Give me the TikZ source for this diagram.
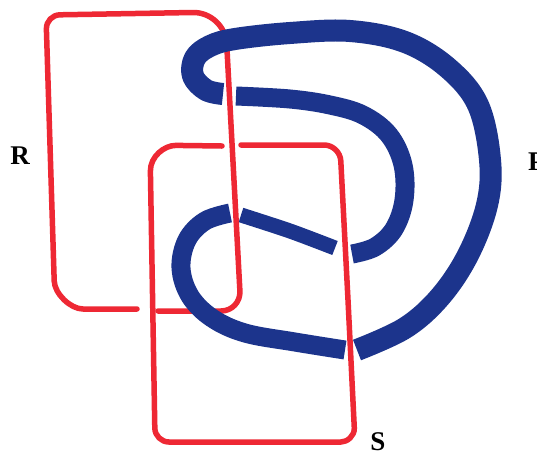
\documentclass[tikz,border=0pt]{standalone}
\usepackage{fontspec}
\setmainfont{Liberation Serif}
\definecolor{penred}{RGB}{238,40,52}
\definecolor{penblue}{RGB}{28,52,140}
\begin{document}
\begin{tikzpicture}[x=1pt,y=-1pt,
  rl/.style={draw=penred,line width=5.5pt,line cap=round,line join=round},
  bl/.style={draw=penblue,line cap=butt,line join=round},
  lab/.style={font=\fontsize{27}{30}\selectfont\bfseries,inner sep=0pt}]
\useasboundingbox (0,0) rectangle (537,456);
\clip (0,0) rectangle (537,456);
\fill[white] (0,0) rectangle (537,456);
% ring R
\draw[rl] (158,311) -- (221,311) .. controls (232,311) and (240.5,302) .. (239.9,291) -- (226.7,44) .. controls (225.8,26.4) and (210.6,12.2) .. (193,12.5) -- (60,14.8) .. controls (52.3,14.9) and (46.2,21.3) .. (46.4,29) -- (54.2,281) .. controls (54.6,293.6) and (70.4,309) .. (83,309) -- (137,309);
% blue band P
\draw[bl,line width=22pt] plot[smooth,tension=0.6] coordinates {(223,94) (206,90) (193,76) (195,58) (210,46) (235,39) (290,33) (350,31) (405,42) (448,68) (478,105) (490,160) (487,205) (468,255) (440,297) (405,328) (357,350)};
\draw[bl,line width=19pt] plot[smooth,tension=0.6] coordinates {(345,350) (295,342) (245,333) (212,318) (190,296) (181,268) (187,240) (205,221) (230,213)};
\draw[bl,line width=15pt] plot[smooth] coordinates {(241,215) (290,231) (335,248)};
\draw[bl,line width=19pt] plot[smooth,tension=0.6] coordinates {(352,254) (375,247) (394,229) (404,200) (403,165) (389,135) (363,115) (330,105) (290,99) (236,96)};
% ring S
\draw[rl] (241,145) -- (324,145) .. controls (332.8,145) and (340.4,152.2) .. (340.8,161) -- (348,300) -- (354.3,428) .. controls (354.7,435.7) and (347.3,442) .. (341,442) -- (169,442) .. controls (161.3,442) and (154.9,435.7) .. (154.8,428) -- (150.4,171) .. controls (150.2,156.7) and (164.3,145.2) .. (176,145.4) -- (222,146);
% labels
\node[lab] (lR) at (20,156) {R};
\node[lab] (lS) at (378,442) {S};
\node[lab,anchor=west] (lP) at (528,162) {P};
\end{tikzpicture}
\end{document}
